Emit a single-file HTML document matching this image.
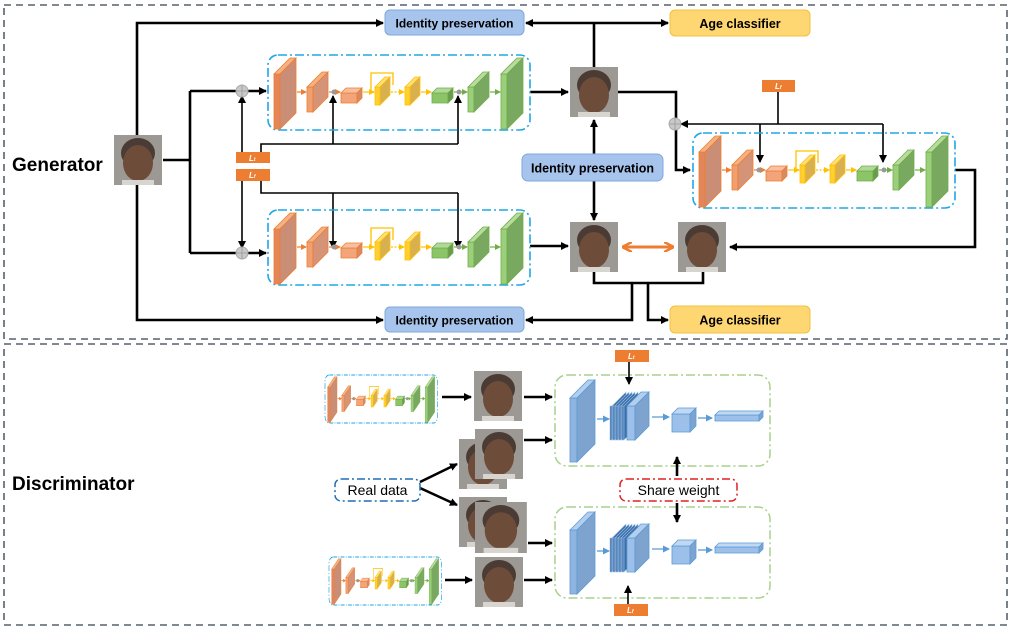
<!DOCTYPE html>
<html><head><meta charset="utf-8"><style>
html,body{margin:0;padding:0;background:#fff}
svg{display:block}
text{font-family:"Liberation Sans",sans-serif}
</style></head><body>
<svg width="1012" height="629" viewBox="0 0 1012 629" xmlns="http://www.w3.org/2000/svg">
<defs>
<marker id="ab" markerWidth="8" markerHeight="8" refX="7" refY="4" orient="auto" markerUnits="userSpaceOnUse"><path d="M0,0 L8,4 L0,8 z" fill="#000"/></marker>
<marker id="ao" markerWidth="6" markerHeight="6" refX="5" refY="3" orient="auto" markerUnits="userSpaceOnUse"><path d="M0,0 L6,3 L0,6 z" fill="#ed7d31"/></marker>
<marker id="ay" markerWidth="6" markerHeight="6" refX="5" refY="3" orient="auto" markerUnits="userSpaceOnUse"><path d="M0,0 L6,3 L0,6 z" fill="#ffc000"/></marker>
<marker id="ag" markerWidth="6" markerHeight="6" refX="5" refY="3" orient="auto" markerUnits="userSpaceOnUse"><path d="M0,0 L6,3 L0,6 z" fill="#70ad47"/></marker>
<marker id="abl" markerWidth="7" markerHeight="7" refX="6" refY="3.5" orient="auto" markerUnits="userSpaceOnUse"><path d="M0,0 L7,3.5 L0,7 z" fill="#5b9bd5"/></marker>
<marker id="aor" markerWidth="10" markerHeight="10" refX="8" refY="5" orient="auto-start-reverse" markerUnits="userSpaceOnUse"><path d="M0,0 L10,5 L0,10" fill="none" stroke="#ed7d31" stroke-width="2.5"/></marker>
<g id="gen">
<rect x="0" y="0" width="262" height="75" rx="10" fill="none" stroke="#1ea7e6" stroke-width="1.6" stroke-dasharray="9 3 2 3"/>
<g stroke="#ed7d31" stroke-width="0.8">
<polygon points="6,19 12,19 12,74 6,74" fill="#e3865a"/><polygon points="6,19 22,3 28,3 12,19" fill="#f4b183"/><polygon points="12,19 28,3 28,58 12,74" fill="#c98e75"/>
<polygon points="39,32 45,32 45,57 39,57" fill="#f0a070"/><polygon points="39,32 54,17 60,17 45,32" fill="#f4b183"/><polygon points="45,32 60,17 60,42 45,57" fill="#d59378"/>
<polygon points="73,38 89,38 89,48 73,48" fill="#f4a47a"/><polygon points="73,38 78,33 94,33 89,38" fill="#f8c0a0"/><polygon points="89,38 94,33 94,43 89,48" fill="#d88a66"/>
</g>
<g stroke="#ffc000" stroke-width="0.8">
<path d="M103,35 V18 H125 V30" fill="none" stroke-width="1.3"/>
<polygon points="107,32 112,32 112,50 107,50" fill="#ffd030"/><polygon points="107,32 117,22 122,22 112,32" fill="#ffe080"/><polygon points="112,32 122,22 122,40 112,50" fill="#d8b050"/>
<polygon points="137,32 142,32 142,50 137,50" fill="#ffd030"/><polygon points="137,32 147,22 152,22 142,32" fill="#ffe080"/><polygon points="142,32 152,22 152,40 142,50" fill="#d8b050"/>
</g>
<g stroke="#70ad47" stroke-width="0.8">
<polygon points="164,38 180,38 180,48 164,48" fill="#8cc468"/><polygon points="164,38 169,33 185,33 180,38" fill="#b0d898"/><polygon points="180,38 185,33 185,43 180,48" fill="#6a9a50"/>
<polygon points="200,32 206,32 206,57 200,57" fill="#9ccf7c"/><polygon points="200,32 215,17 221,17 206,32" fill="#b8dca0"/><polygon points="206,32 221,17 221,42 206,57" fill="#79a860"/>
<polygon points="233,19 239,19 239,74 233,74" fill="#9ccf7c"/><polygon points="233,19 249,3 255,3 239,19" fill="#b8dca0"/><polygon points="239,19 255,3 255,58 239,74" fill="#79a860"/>
</g>
<line x1="29" y1="37" x2="38" y2="37" stroke="#ed7d31" stroke-width="1.2" marker-end="url(#ao)"/>
<line x1="61" y1="37" x2="72" y2="37" stroke="#ed7d31" stroke-width="1.2" marker-end="url(#ao)"/>
<circle cx="66" cy="37" r="2.5" fill="#999"/>
<line x1="95" y1="37" x2="106" y2="37" stroke="#ffc000" stroke-width="1.2" marker-end="url(#ay)"/>
<line x1="123" y1="37" x2="136" y2="37" stroke="#ffc000" stroke-width="1.2" stroke-dasharray="2 1.5" marker-end="url(#ay)"/>
<line x1="153" y1="37" x2="163" y2="37" stroke="#ffc000" stroke-width="1.2" marker-end="url(#ay)"/>
<line x1="186" y1="37" x2="199" y2="37" stroke="#70ad47" stroke-width="1.2" marker-end="url(#ag)"/>
<circle cx="191" cy="37" r="2.5" fill="#999"/>
<line x1="222" y1="37" x2="232" y2="37" stroke="#70ad47" stroke-width="1.2" marker-end="url(#ag)"/>
</g>
<g id="disc">
<rect x="0" y="0" width="215" height="91" rx="12" fill="none" stroke="#a9d18e" stroke-width="1.5" stroke-dasharray="9 3 2 3"/>
<g stroke="#5b9bd5" stroke-width="0.8">
<polygon points="15,23 22,23 22,87 15,87" fill="#8fb4e0"/><polygon points="15,23 33,5 40,5 22,23" fill="#b4cfee"/><polygon points="22,23 40,5 40,69 22,87" fill="#7fa3cf"/>
</g>
<g stroke="#9dc0ea" stroke-width="0.6" fill="#3d6fa8">
<polygon points="55,31 57,31 57,65 55,65"/><polygon points="57,31 71,17 71,51 57,65"/>
<polygon points="58,31 60,31 60,65 58,65"/><polygon points="60,31 74,17 74,51 60,65"/>
<polygon points="61,31 63,31 63,65 61,65"/><polygon points="63,31 77,17 77,51 63,65"/>
<polygon points="64,31 66,31 66,65 64,65"/><polygon points="66,31 80,17 80,51 66,65"/>
<polygon points="67,31 69,31 69,65 67,65"/><polygon points="69,31 83,17 83,51 69,65"/>
</g>
<g stroke="#5b9bd5" stroke-width="0.8">
<polygon points="72,31 80,31 80,65 72,65" fill="#9dc0ea"/><polygon points="72,31 86,17 94,17 80,31" fill="#b4cfee"/><polygon points="80,31 94,17 94,51 80,65" fill="#7fa3cf"/>
<polygon points="117,39 135,39 135,57 117,57" fill="#9dc0ea"/><polygon points="117,39 123,33 141,33 135,39" fill="#c0d8f2"/><polygon points="135,39 141,33 141,51 135,57" fill="#7fa3cf"/>
<polygon points="160,40 204,40 204,46 160,46" fill="#9dc0ea"/><polygon points="160,40 164,36 208,36 204,40" fill="#c0d8f2"/><polygon points="204,40 208,36 208,42 204,46" fill="#7fa3cf"/>
</g>
<line x1="42" y1="44" x2="54" y2="44" stroke="#5b9bd5" stroke-width="1.3" marker-end="url(#abl)"/>
<line x1="97" y1="42" x2="114" y2="42" stroke="#5b9bd5" stroke-width="1.3" marker-end="url(#abl)"/>
<line x1="143" y1="43" x2="157" y2="43" stroke="#5b9bd5" stroke-width="1.3" marker-end="url(#abl)"/>
</g>
<g id="face">
<rect x="0" y="0" width="48" height="50" fill="#9c9894"/>
<ellipse cx="24" cy="18" rx="17" ry="15" fill="#4a3c34"/>
<ellipse cx="24" cy="28" rx="15" ry="18" fill="#6e4c3a"/>
<rect x="8" y="45" width="32" height="5" fill="#d8d4d0"/>
</g>
</defs>

<rect x="4" y="5" width="1003" height="334" fill="none" stroke="#56606e" stroke-width="1.6" stroke-dasharray="7 5"/>
<rect x="4" y="344" width="1003" height="281" fill="none" stroke="#56606e" stroke-width="1.6" stroke-dasharray="7 5"/>
<text x="12" y="171" font-size="19" font-weight="bold">Generator</text>
<text x="12" y="490" font-size="19" font-weight="bold">Discriminator</text>

<g stroke="#000" stroke-width="2.6" fill="none">
<path d="M137,135 V23 H383" marker-end="url(#ab)"/>
<path d="M137,184 V320 H383" marker-end="url(#ab)"/>
<path d="M163,160 H190"/>
<path d="M190,91 V253"/>
<path d="M190,91 H266" marker-end="url(#ab)"/>
<path d="M190,253 H266" marker-end="url(#ab)"/>
<path d="M530,92 H568" marker-end="url(#ab)"/>
<path d="M530,246 H568" marker-end="url(#ab)"/>
<path d="M594,67 V23"/>
<path d="M594,23 H526" marker-end="url(#ab)"/>
<path d="M594,23 H668" marker-end="url(#ab)"/>
<path d="M594,154 V120" marker-end="url(#ab)"/>
<path d="M594,181 V220" marker-end="url(#ab)"/>
<path d="M618,92 H676 V170 H690" marker-end="url(#ab)"/>
<path d="M955,170 H975 V247 H730" marker-end="url(#ab)"/>
<path d="M594,272 V283 H703 V272"/>
<path d="M632,283 V320 H526" marker-end="url(#ab)"/>
<path d="M648,283 V320 H668" marker-end="url(#ab)"/>
</g>
<g stroke="#000" stroke-width="1.6" fill="none">
<path d="M242,152 V96" marker-end="url(#ab)"/>
<path d="M242,181 V248" marker-end="url(#ab)"/>
<path d="M261,152 V144 H458"/>
<path d="M333,144 V96" marker-end="url(#ab)"/>
<path d="M458,144 V96" marker-end="url(#ab)"/>
<path d="M261,181 V193 H458"/>
<path d="M333,193 V248" marker-end="url(#ab)"/>
<path d="M458,193 V248" marker-end="url(#ab)"/>
<path d="M778,92 V124"/>
<path d="M883,124 H681" marker-end="url(#ab)"/>
<path d="M760,124 V162" marker-end="url(#ab)"/>
<path d="M883,124 V162" marker-end="url(#ab)"/>
</g>
<g fill="#c8c8c8" stroke="#aaa" stroke-width="1">
<circle cx="242" cy="91" r="6"/><circle cx="242" cy="253" r="6"/><circle cx="675" cy="124" r="6"/>
</g>
<g stroke="#999" stroke-width="0.8"><path d="M236,91 H248 M242,85 V97 M236,253 H248 M242,247 V259 M669,124 H681 M675,118 V130"/></g>

<use href="#gen" x="268" y="55"/>
<use href="#gen" x="268" y="210"/>
<use href="#gen" x="693" y="133"/>

<g fill="#ed7d31">
<rect x="236" y="152" width="34" height="11"/><rect x="236" y="169" width="34" height="12"/>
<rect x="762" y="80" width="33" height="12"/>
<rect x="615" y="350" width="34" height="12"/><rect x="614" y="604" width="34" height="12"/>
</g>
<g fill="#fff" font-size="8" font-style="italic" font-weight="bold" font-family="Liberation Serif,serif">
<text x="249" y="161">L<tspan font-size="5">t</tspan></text><text x="249" y="178">L<tspan font-size="5">f</tspan></text>
<text x="775" y="89">L<tspan font-size="5">f</tspan></text>
<text x="628" y="359">L<tspan font-size="5">t</tspan></text><text x="627" y="613">L<tspan font-size="5">f</tspan></text>
</g>

<rect x="385" y="10" width="139" height="25" rx="5" fill="#a7c4ec" stroke="#7fa7dc"/>
<text x="454.5" y="27.5" font-size="12" font-weight="bold" text-anchor="middle">Identity preservation</text>
<rect x="385" y="307" width="139" height="25" rx="5" fill="#a7c4ec" stroke="#7fa7dc"/>
<text x="454.5" y="324.5" font-size="12" font-weight="bold" text-anchor="middle">Identity preservation</text>
<rect x="522" y="154" width="141" height="27" rx="6" fill="#a7c4ec" stroke="#7fa7dc"/>
<text x="592.5" y="172.5" font-size="12.5" font-weight="bold" text-anchor="middle">Identity preservation</text>
<rect x="670" y="10" width="140" height="26" rx="5" fill="#ffd772" stroke="#f0c040"/>
<text x="740" y="28" font-size="12.5" font-weight="bold" text-anchor="middle">Age classifier</text>
<rect x="670" y="306" width="140" height="27" rx="5" fill="#ffd772" stroke="#f0c040"/>
<text x="740" y="324.5" font-size="12.5" font-weight="bold" text-anchor="middle">Age classifier</text>

<use href="#face" x="114" y="135"/>
<use href="#face" x="570" y="67"/>
<use href="#face" x="570" y="222"/>
<use href="#face" x="678" y="222"/>
<use href="#face" x="474" y="371"/>
<use href="#face" x="459" y="439"/>
<use href="#face" x="475" y="429"/>
<use href="#face" x="459" y="497"/>
<g transform="translate(475,502) scale(1.08,1.02)"><use href="#face"/></g>
<use href="#face" x="475" y="557"/>

<line x1="624" y1="247" x2="672" y2="247" stroke="#ed7d31" stroke-width="3" marker-start="url(#aor)" marker-end="url(#aor)"/>

<g transform="translate(325,375) scale(0.43,0.64)"><use href="#gen"/></g>
<g transform="translate(329,557) scale(0.43,0.64)"><use href="#gen"/></g>
<use href="#disc" x="555" y="375"/>
<use href="#disc" x="555" y="507"/>
<g stroke="#000" stroke-width="2.6" fill="none">
<path d="M442,397 H471" marker-end="url(#ab)"/>
<path d="M524,397 H552" marker-end="url(#ab)"/>
<path d="M524,440 H552" marker-end="url(#ab)"/>
<path d="M420,482 L457,464" marker-end="url(#ab)"/>
<path d="M420,488 L457,505" marker-end="url(#ab)"/>
<path d="M528,543 H552" marker-end="url(#ab)"/>
<path d="M445,580 H472" marker-end="url(#ab)"/>
<path d="M524,580 H552" marker-end="url(#ab)"/>
<path d="M677,476 V457" marker-end="url(#ab)"/>
<path d="M677,503 V522" marker-end="url(#ab)"/>
</g>
<g stroke="#000" stroke-width="1.6" fill="none">
<path d="M629,362 V384" marker-end="url(#ab)"/>
<path d="M628,604 V586" marker-end="url(#ab)"/>
</g>
<rect x="335" y="479" width="85" height="22" rx="6" fill="#fff" stroke="#1f6fb8" stroke-width="1.5" stroke-dasharray="8 3 2 3"/>
<text x="377.5" y="495" font-size="14" text-anchor="middle">Real data</text>
<rect x="620" y="479" width="117" height="22" rx="6" fill="#fff" stroke="#e02020" stroke-width="1.5" stroke-dasharray="8 3 2 3"/>
<text x="678.5" y="495" font-size="14" text-anchor="middle">Share weight</text>
</svg>
</body></html>
